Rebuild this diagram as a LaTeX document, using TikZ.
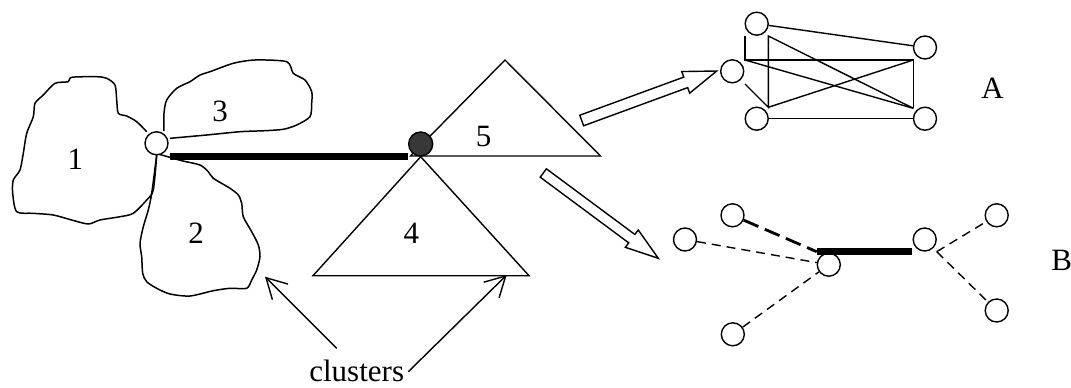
\documentclass[tikz,border=0pt]{standalone}
\usepackage{fontspec}
\setmainfont{Liberation Serif}
\usetikzlibrary{arrows.meta,calc}
\definecolor{hubgray}{HTML}{383838}
\begin{document}
\begin{tikzpicture}[x=1pt,y=-1pt,
  outline/.style={line width=1.5pt, line join=round},
  tri/.style={line width=1.4pt, line join=miter},
  vertex/.style={circle, draw, line width=1.4pt, minimum size=23pt, inner sep=0pt, fill=white},
  hub/.style={circle, draw, line width=1.4pt, minimum size=24pt, inner sep=0pt, fill=hubgray},
  edge/.style={line width=1.4pt},
  dashedge/.style={line width=1.4pt, dash pattern=on 9pt off 6pt},
  heavydash/.style={line width=2.8pt, dash pattern=on 16pt off 7pt},
  bar/.style={line width=7pt},
  label/.style={font=\fontsize{31}{36}\selectfont, inner sep=0pt},
  pointer/.style={line width=1.4pt, -{Straight Barb[length=20pt,width=22pt]}},
  hollow/.style={line width=1.4pt, line join=miter, fill=white}]

\fill[white] (0,0) rectangle (1071,388);
\useasboundingbox (0,0) rectangle (1071,388);

% cluster 1
\draw[outline] plot[smooth, tension=0.45] coordinates {
  (146.7,131.7) (136.7,121.7) (126.7,116) (118.3,113.3) (116.7,100) (115,85)
  (106.7,78.3) (96.7,76.7) (71.7,77.3) (68.3,81.7) (55,83.3) (43.3,95)
  (35,103.3) (33.3,116.7) (26.7,133.3) (23.3,153.3) (20,170) (13.3,180)
  (12.7,193.3) (16.7,211.7) (33.3,213.3) (53.3,215) (71.7,220) (88.3,224)
  (100,220) (120,216.7) (133.3,213.3) (146.7,200) (153.3,190) (156.7,155)};
% cluster 2
\draw[outline] plot[smooth, tension=0.45] coordinates {
  (159.3,154.3) (181.7,160.7) (200,165) (208.3,171.7) (213.3,178.3) (230,188.3)
  (238.3,195) (241.7,203.3) (243.3,216.7) (251.7,231.7) (258.3,245) (260,256.7)
  (256.7,270) (251.7,280) (246.7,288.3) (230,288.3) (213.3,290.7) (190,296)
  (170,294) (156.7,288.3) (146.7,281.7) (142.7,273.3) (141.7,256.7) (140,243.3)
  (143.3,226.7) (148.3,210) (151.7,193.3) (156.7,155)};
% cluster 3
\draw[outline] plot[smooth, tension=0.45] coordinates {
  (164,131) (164,113.3) (166.7,100) (176.7,88.3) (190,81.7) (200,75) (210,71.7)
  (233.3,63.3) (255,60) (286.7,61.7) (293.3,73.3) (305,80) (311.7,91.7)
  (311.7,103.3) (310,116.7) (296.7,125) (283.3,129.3) (265,130.7) (240,131.7)
  (206.7,135) (170,138.3)};

% clusters 4 and 5
\draw[tri] (410.5,156) -- (505,60) -- (600.5,156) -- cycle;
\draw[tri] (420.7,156.7) -- (313,275.7) -- (529,275.7) -- cycle;

% heavy link between the two junctions
\coordinate (barL) at (170,156);
\coordinate (barR) at (408,156);
\draw[bar] (barL) -- (barR);
\node[vertex] (j1) at (156.5,143.3) {};
\node[hub] (j2) at (420.7,144) {};

% cluster labels
\node[label] (l1) at (75.3,159.7) {1};
\node[label] (l2) at (196,233.3) {2};
\node[label] (l3) at (220,111.7) {3};
\node[label] (l4) at (411.3,233) {4};
\node[label] (l5) at (483.7,136.3) {5};
\node[label, anchor=base] (cl) at (356.7,381) {clusters};
\coordinate (cl1) at (336.7,348.3);
\coordinate (cl2) at (408.3,371.7);
\coordinate (t1) at (265,276.7);
\coordinate (t2) at (506.7,275);
\draw[pointer] (cl1) -- (t1);
\draw[pointer] (cl2) -- (t2);

% hollow arrows towards the two expansions
\coordinate (uT) at (581.7,120.5);
\coordinate (uP) at (716.7,71);
\coordinate (uH) at ($(uP)!33pt!(uT)$);
\draw[hollow] ($(uT)!5.6pt!90:(uP)$) -- ($(uH)!5.6pt!90:(uP)$) -- ($(uH)!11.5pt!90:(uP)$)
  -- (uP) -- ($(uH)!11.5pt!-90:(uP)$) -- ($(uH)!5.6pt!-90:(uP)$) -- ($(uT)!5.6pt!-90:(uP)$) -- cycle;
\coordinate (dT) at (543.3,173);
\coordinate (dP) at (658.3,258.3);
\coordinate (dH) at ($(dP)!33pt!(dT)$);
\draw[hollow] ($(dT)!5.2pt!90:(dP)$) -- ($(dH)!5.2pt!90:(dP)$) -- ($(dH)!10.8pt!90:(dP)$)
  -- (dP) -- ($(dH)!10.8pt!-90:(dP)$) -- ($(dH)!5.2pt!-90:(dP)$) -- ($(dT)!5.2pt!-90:(dP)$) -- cycle;

% expansion A
\coordinate (p1) at (745,36);
\coordinate (p2) at (745,60);
\coordinate (p3) at (913.3,60);
\coordinate (p4) at (913.3,108.3);
\coordinate (p5) at (768.3,36);
\coordinate (p6) at (768.3,107.3);
\coordinate (p7) at (745,84);
\draw[edge] (p1) -- (p2) -- (p3) -- (p4);
\draw[edge] (p2) -- (p4);
\draw[edge] (p7) -- (p6) -- (p5) -- (p4);
\draw[edge] (p6) -- (p3);
\node[vertex] (a1) at (756.7,23.7) {};
\node[vertex] (a2) at (732.2,71.3) {};
\node[vertex] (a3) at (756.7,118.7) {};
\node[vertex] (a4) at (925,47.5) {};
\node[vertex] (a5) at (925,118.7) {};
\draw[edge] (a1) -- (a4);
\draw[edge] (a3) -- (a5);
\node[label] (la) at (992.5,88.3) {A};

% expansion B
\node[vertex] (b1) at (732.5,215.3) {};
\node[vertex] (b2) at (685,239.5) {};
\node[vertex] (b3) at (828.8,264.7) {};
\node[vertex] (b4) at (732.8,334.3) {};
\node[vertex] (b5) at (924.7,239.5) {};
\node[vertex] (b6) at (996.7,215.3) {};
\node[vertex] (b7) at (996.7,310.5) {};
\coordinate (q1) at (816.7,251.7);
\coordinate (q2) at (912.3,251.7);
\coordinate (q3) at (936.7,251.7);
\draw[heavydash] (b1) -- (q1);
\draw[dashedge] (b2) -- (b3);
\draw[dashedge] (b4) -- (b3);
\draw[bar] (q1) -- (q2);
\draw[dashedge] (q3) -- (b6);
\draw[dashedge] (q3) -- (b7);
\node[label] (lb) at (1061.7,260) {B};
\end{tikzpicture}
\end{document}
